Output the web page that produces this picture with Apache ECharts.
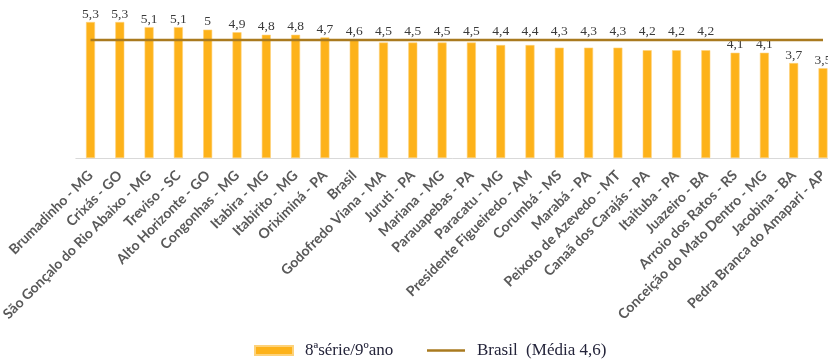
<!DOCTYPE html>
<html>
<head>
<meta charset="utf-8">
<script src="https://cdn.jsdelivr.net/npm/echarts@6/dist/echarts.min.js"></script>
<style>
  html, body { margin: 0; padding: 0; background: #ffffff; }
  #chart { width: 828px; height: 359px; }
</style>
</head>
<body>
<div id="chart"></div>
<script>
// Municípios e a média nacional (8ª série / 9º ano)
const municipios = [
  'Brumadinho - MG', 'Crixás - GO', 'São Gonçalo do Rio Abaixo - MG', 'Treviso - SC',
  'Alto Horizonte - GO', 'Congonhas - MG', 'Itabira - MG', 'Itabirito - MG',
  'Oriximiná - PA', 'Brasil', 'Godofredo Viana - MA', 'Juruti - PA', 'Mariana - MG',
  'Parauapebas - PA', 'Paracatu - MG', 'Presidente Figueiredo - AM', 'Corumbá - MS',
  'Marabá - PA', 'Peixoto de Azevedo - MT', 'Canaã dos Carajás - PA', 'Itaituba - PA',
  'Juazeiro - BA', 'Arroio dos Ratos - RS', 'Conceição do Mato Dentro - MG',
  'Jacobina - BA', 'Pedra Branca do Amapari - AP'
];
const notas = [
  5.3, 5.3, 5.1, 5.1, 5.0, 4.9, 4.8, 4.8, 4.7, 4.6, 4.5, 4.5, 4.5,
  4.5, 4.4, 4.4, 4.3, 4.3, 4.3, 4.2, 4.2, 4.2, 4.1, 4.1, 3.7, 3.5
];
const mediaBrasil = 4.6;
const linhaBrasil = municipios.map(() => mediaBrasil);

const nomeBarras = '8ªsérie/9ºano';
const nomeLinha = 'Brasil  (Média 4,6)';

const corBarra = '#fdb21a';
const corLinha = '#a97a1f';

const fmt = v => String(v).replace('.', ',');

const chart = echarts.init(document.getElementById('chart'), null, { renderer: 'canvas' });

const legendText = {
  fontFamily: 'Liberation Serif',
  fontSize: 17,
  color: '#24243a',
  padding: [0, 0, 0, 7]
};

function buildOption(pxPerUnit) {
  // Rótulos de barras logo abaixo da média sobem para ficar acima da linha
  const barData = notas.map(v => {
    const item = { value: v };
    if (pxPerUnit && v < mediaBrasil && v > 4.15) {
      item.label = { offset: [0, -(mediaBrasil - v) * pxPerUnit] };
    }
    return item;
  });
  return {
    animation: false,
    backgroundColor: '#ffffff',
    // a última categoria fica parcialmente fora da área visível
    grid: {
      left: 75.85, width: 761.8, top: 4, height: 154,
      containLabel: false,
      outerBoundsMode: 'none'
    },
    legend: [
      {
        left: 249,
        top: 337,
        itemWidth: 38,
        itemHeight: 9,
        textStyle: legendText,
        data: [{ name: nomeBarras, icon: 'rect' }]
      },
      {
        left: 422,
        top: 337,
        itemWidth: 38,
        itemHeight: 2.5,
        textStyle: legendText,
        data: [{ name: nomeLinha, icon: 'rect', itemStyle: { color: corLinha } }]
      }
    ],
    xAxis: {
      type: 'category',
      data: municipios,
      axisLine: { show: true, lineStyle: { color: '#d9d9d9', width: 1 } },
      axisTick: { show: false },
      axisLabel: {
        interval: 0,
        rotate: 45,
        margin: 15,
        fontFamily: 'Lato',
        fontWeight: 'bold',
        fontSize: 14,
        color: '#595959'
      }
    },
    yAxis: {
      type: 'value',
      min: 0,
      max: 6,
      show: false,
      splitLine: { show: false }
    },
    series: [
      {
        name: nomeBarras,
        type: 'bar',
        barWidth: 9,
        data: barData,
        itemStyle: { color: corBarra, borderColor: '#fdd27a', borderWidth: 0.6 },
        label: {
          show: true,
          position: 'top',
          distance: 1,
          formatter: p => fmt(p.value),
          fontFamily: 'Liberation Serif',
          fontSize: 13.5,
          color: '#3a3a3a'
        },
        z: 2
      },
      {
        name: nomeLinha,
        type: 'line',
        data: linhaBrasil,
        symbol: 'none',
        lineStyle: { color: corLinha, width: 2.5 },
        itemStyle: { color: corLinha },
        z: 3
      }
    ]
  };
}

chart.setOption(buildOption(0));
const px = chart.convertToPixel({ yAxisIndex: 0 }, 0) - chart.convertToPixel({ yAxisIndex: 0 }, 1);
chart.setOption(buildOption(px));
</script>
</body>
</html>
